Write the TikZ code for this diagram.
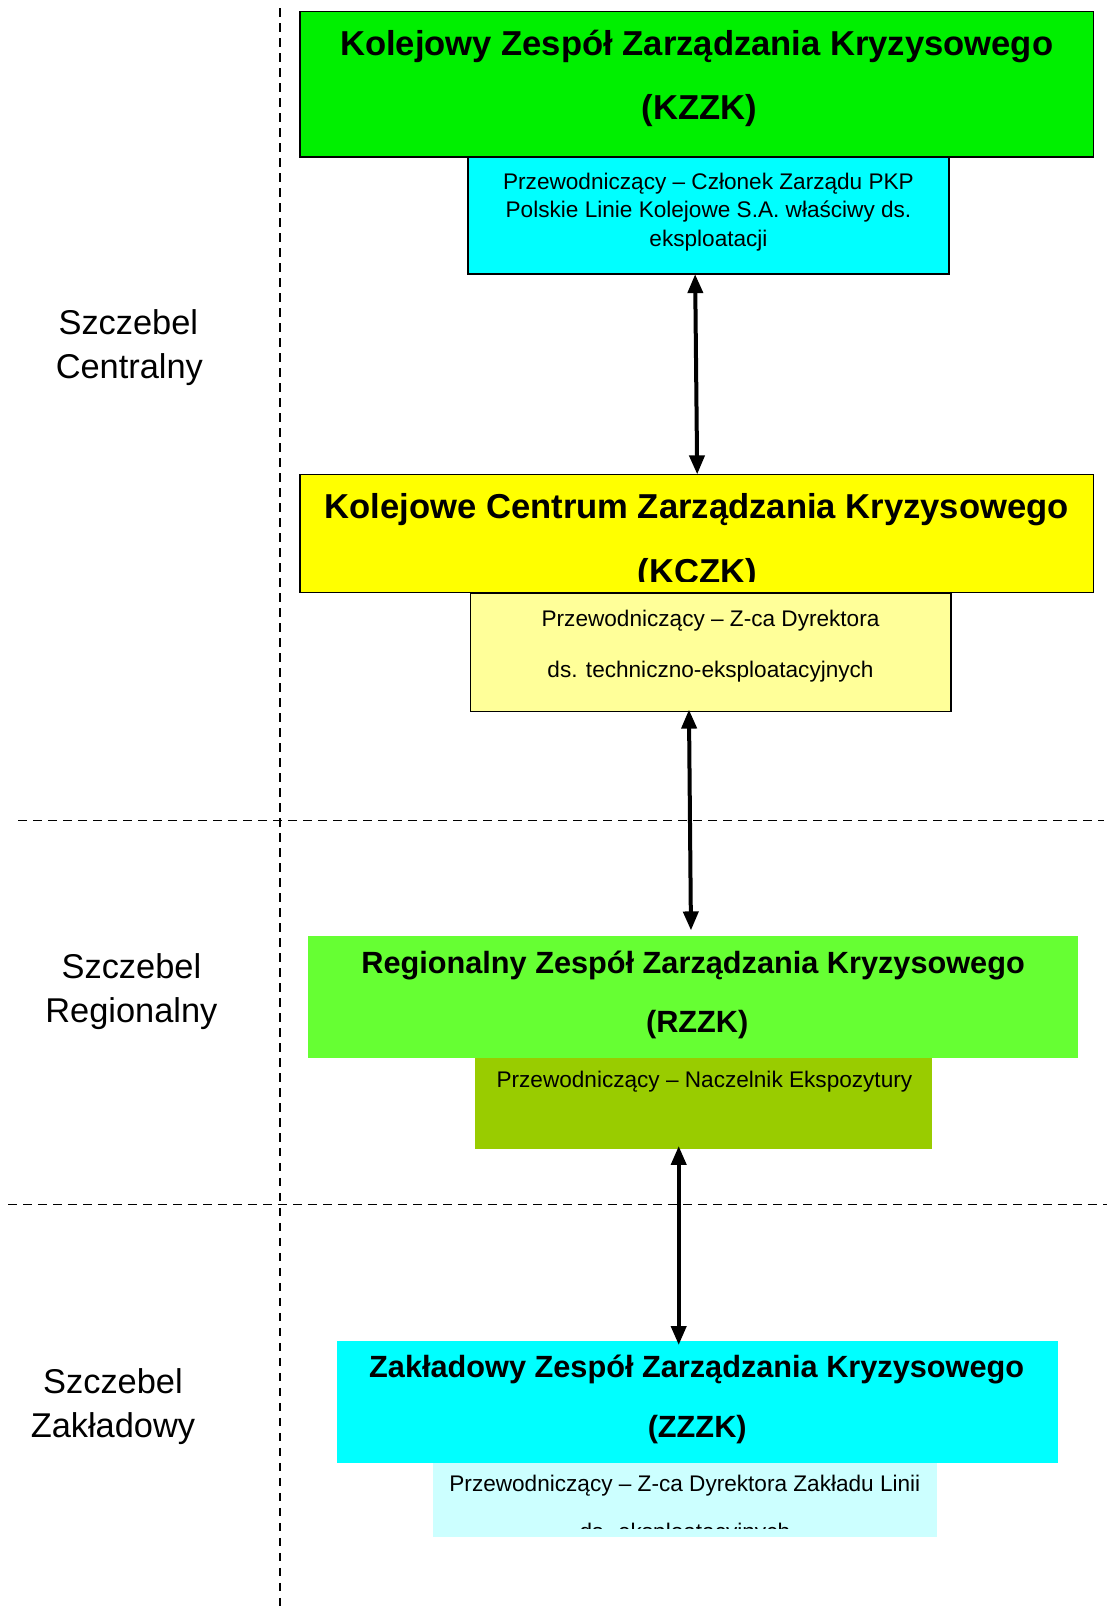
\documentclass[tikz,border=0pt]{standalone}
\usepackage{fontspec}
\setmainfont{Liberation Sans}
\usetikzlibrary{arrows.meta,calc,fit}
\definecolor{cKZZK}{RGB}{0,240,0}
\definecolor{cKZZKsub}{RGB}{0,255,255}
\definecolor{cKCZK}{RGB}{255,255,0}
\definecolor{cKCZKsub}{RGB}{255,255,153}
\definecolor{cRZZK}{RGB}{102,255,51}
\definecolor{cRZZKsub}{RGB}{153,204,0}
\definecolor{cZZZK}{RGB}{0,255,255}
\definecolor{cZZZKsub}{RGB}{204,255,255}
\begin{document}
\begin{tikzpicture}[x=1.027pt,y=-1.027pt,
  box/.style={inner sep=0pt, outer sep=0pt, line width=1.5pt},
  bord/.style={draw=black},
  bigtitle/.style={anchor=base, inner sep=0pt, font=\fontsize{34.6}{40}\selectfont\bfseries},
  smalltitle/.style={anchor=base, inner sep=0pt, font=\fontsize{30.7}{36}\selectfont\bfseries},
  subtext/.style={anchor=base, inner sep=0pt, font=\fontsize{22.6}{27}\selectfont},
  lvltext/.style={anchor=base, inner sep=0pt, font=\fontsize{34.4}{40}\selectfont},
  divider/.style={dash pattern=on 8.5pt off 6.5pt, line width=1.8pt},
  link/.style={line width=4pt, {Triangle[length=19pt,width=15pt]}-{Triangle[length=19pt,width=15pt]}}
]
\useasboundingbox (0,0) rectangle (1078,1568);

% dividers
\draw[divider] (273,8) -- (273,1568);
\draw[divider] (18,799) -- (1075,799);
\draw[divider] (8,1173) -- (1078,1173);

% boxes
\node[box, bord, fill=cKZZK, fit={(292,11) (1065,153)}] (b1) {};
\node[box, bord, fill=cKZZKsub, fit={(456,153) (924,267)}] (b2) {};
\node[box, bord, fill=cKCZK, fit={(292,462) (1065,577)}] (b3) {};
\node[box, bord, fill=cKCZKsub, fit={(458,578) (926,693)}] (b4) {};
\node[box, fill=cRZZK, fit={(300,912) (1050,1030)}] (b5) {};
\node[box, fill=cRZZKsub, fit={(463,1030) (908,1119)}] (b6) {};
\node[box, fill=cZZZK, fit={(328,1306) (1030,1425)}] (b7) {};
\node[box, fill=cZZZKsub, fit={(422,1425) (913,1497)}] (b8) {};

% texts
\node[bigtitle] (t1a) at (678.5,54) {Kolejowy Zespół Zarządzania Kryzysowego};
\node[bigtitle] (t1b) at (681,116) {(KZZK)};
\node[subtext] (t2a) at (690,185) {Przewodniczący – Członek Zarządu PKP};
\node[subtext] (t2b) at (690,212) {Polskie Linie Kolejowe S.A. właściwy ds.};
\node[subtext] (t2c) at (690,240) {eksploatacji};

\node[bigtitle] (t3a) at (678.5,505) {Kolejowe Centrum Zarządzania Kryzysowego};
\begin{scope}
  \clip (292,462) rectangle (1065,566);
  \node[bigtitle] (t3b) at (679,568) {(KCZK)};
\end{scope}
\node[subtext] (t4a) at (692,610) {Przewodniczący – Z-ca Dyrektora};
\node[subtext] (t4b) at (692,660) {ds. techniczno-eksploatacyjnych};

\node[smalltitle] (t5a) at (675,948) {Regionalny Zespół Zarządzania Kryzysowego};
\node[smalltitle] (t5b) at (679,1006) {(RZZK)};
\node[subtext] (t6) at (686,1059) {Przewodniczący – Naczelnik Ekspozytury};

\node[smalltitle] (t7a) at (678.5,1342) {Zakładowy Zespół Zarządzania Kryzysowego};
\node[smalltitle] (t7b) at (679,1400) {(ZZZK)};
\node[subtext] (t8a) at (667,1453) {Przewodniczący – Z-ca Dyrektora Zakładu Linii};
\begin{scope}
  \clip (422,1425) rectangle (913,1488.5);
  \node[subtext] (t8b) at (667,1499) {ds. eksploatacyjnych};
\end{scope}

% level labels
\node[lvltext] (l1a) at (125,326) {Szczebel};
\node[lvltext] (l1b) at (126,369) {Centralny};
\node[lvltext] (l2a) at (128,953) {Szczebel};
\node[lvltext] (l2b) at (128,996) {Regionalny};
\node[lvltext] (l3a) at (110,1357) {Szczebel};
\node[lvltext] (l3b) at (110,1400) {Zakładowy};

% connectors
\draw[link] ($(b2.south)+(-13,0)$) -- ($(b3.north)+(0.5,0)$);
\draw[link, shorten <=-2pt, shorten >=6pt] ($(b4.south)+(-21,0)$) -- ($(b5.north)+(-2,0)$);
\draw[link, shorten <=-3pt, shorten >=-4pt] ($(b6.south)+(-24.5,0)$) -- ($(b7.north)+(-18,0)$);
\end{tikzpicture}
\end{document}
